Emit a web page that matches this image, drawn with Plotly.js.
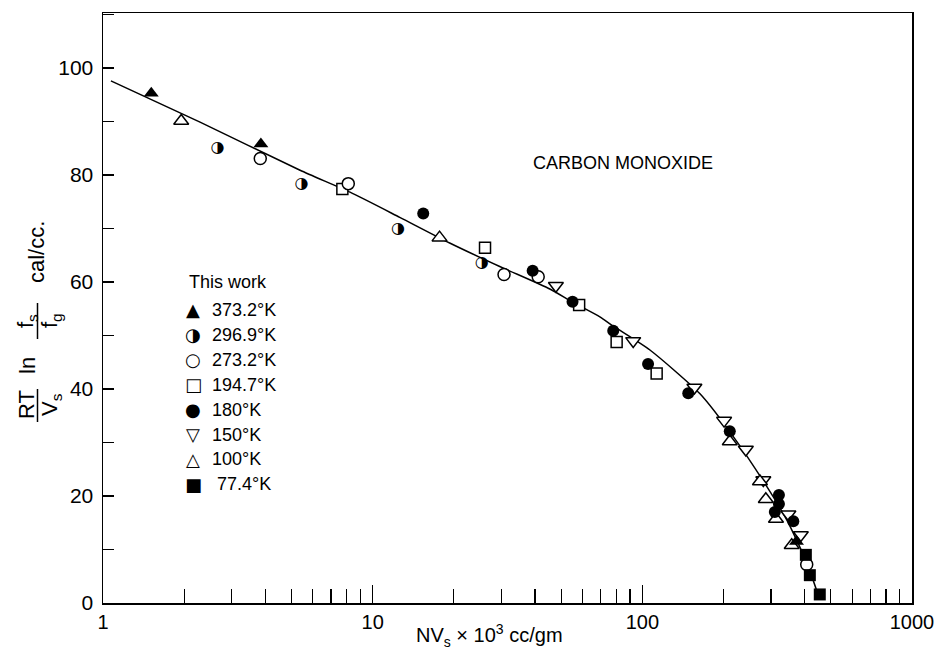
<!DOCTYPE html>
<html>
<head>
<meta charset="utf-8">
<script src="https://cdn.plot.ly/plotly-3.0.1.min.js"></script>
<style>html,body{margin:0;padding:0;background:#fff;}#chart{width:940px;height:653px;}</style>
</head>
<body>
<div id="chart"></div>
<script>
// ---- data ----
const curveX = [1.07, 2.29, 5.38, 8.24, 12.6, 19.3, 29.6, 45.4, 55.3, 69.6, 77.8, 106.7, 163.6, 216.8, 290, 343.6, 407.6, 455];
const curveY = [97.6, 89.9, 80.9, 76.8, 72.1, 67.3, 62.9, 58.7, 56.2, 53.5, 51.8, 47.3, 39.1, 31.2, 21.7, 15.5, 7.5, 0.6];

const t373X = [1.51, 3.85, 373];
const t373Y = [95.3, 85.8, 11.5];
const t296X = [2.66, 5.45, 12.4, 25.4];
const t296Y = [85.0, 78.3, 70.0, 63.6];
const t273X = [3.83, 8.12, 30.7, 41.1, 407];
const t273Y = [83.1, 78.4, 61.4, 61.0, 7.2];
const t194X = [7.72, 26.1, 58.3, 80.3, 113];
const t194Y = [77.4, 66.4, 55.7, 48.8, 42.9];
const t180X = [15.4, 39.2, 55.1, 78.0, 105, 148, 211, 321, 321, 310, 363];
const t180Y = [72.8, 62.1, 56.3, 50.9, 44.7, 39.2, 32.1, 20.2, 18.5, 17.0, 15.3];
const t150X = [47.8, 92.5, 156, 201, 242, 281, 348, 387];
const t150Y = [59.3, 49.0, 40.3, 34.1, 28.7, 23.0, 16.6, 12.7];
const t100X = [1.95, 17.7, 211, 273, 287, 313, 358];
const t100Y = [90.1, 68.3, 30.2, 22.7, 19.4, 15.7, 10.8];
const t77X = [404, 418, 455];
const t77Y = [9.0, 5.2, 1.6];

const legendTitle = 'This work';
const legendLabels = ['373.2°K', '296.9°K', '273.2°K', '194.7°K', '180°K', '150°K', '100°K', ' 77.4°K'];
const legendGlyphs = ['▲', '◑', '○', '□', '●', '▽', '△', '■'];

const xMajor = [1, 10, 100, 1000];
const xMajorText = ['1', '10', '100', '1000'];
const xMinor = [2,3,4,5,6,7,8,9,20,30,40,50,60,70,80,90,200,300,400,500,600,700,800,900];
const yMajor = [0, 20, 40, 60, 80, 100];

const annotationText = 'CARBON MONOXIDE';
const xTitle = 'NV<sub>s</sub> × 10<sup>3</sup> cc/gm';
// ---------------------------------------

const FONT = 'Liberation Sans, Arial, Helvetica, sans-serif';
const SYMFONT = 'DejaVu Sans, sans-serif';
const openLine = {color: 'black', width: 1.5};

function mk(x, y, symbol, size, fill) {
  return {
    x: x, y: y, type: 'scatter', mode: 'markers', showlegend: false, hoverinfo: 'skip',
    marker: {symbol: symbol, size: size, color: fill ? 'black' : 'white', line: fill ? {width: 0} : openLine}
  };
}

const traces = [
  {x: curveX, y: curveY, type: 'scatter', mode: 'lines', showlegend: false, hoverinfo: 'skip',
   line: {color: 'black', width: 1.5, shape: 'spline', smoothing: 0.6}},
  mk(t194X, t194Y, 'square', 11, false),
  mk(t273X, t273Y, 'circle', 12, false),
  {x: t296X, y: t296Y, type: 'scatter', mode: 'text', text: t296X.map(() => '◑'), showlegend: false,
   hoverinfo: 'skip', textposition: 'middle center', textfont: {family: SYMFONT, size: 16, color: 'black'}},
  mk(t150X, t150Y, 'triangle-down', 13, false),
  mk(t100X, t100Y, 'triangle-up', 13, false),
  mk(t180X, t180Y, 'circle', 12, true),
  mk(t373X, t373Y, 'triangle-up', 13, true),
  mk(t77X, t77Y, 'square', 12, true)
];

// pixel helpers for layout placement (plot area: 103..912 x, 13..603 y)
const L = 103, R = 912, T = 13, B = 603;
const px = v => (v - L) / (R - L);
const py = v => (B - v) / (B - T);

const annotations = [];
annotations.push({text: annotationText, xref: 'paper', yref: 'paper', x: px(531), y: py(163), xanchor: 'left', yanchor: 'middle', showarrow: false, font: {family: FONT, size: 18, color: 'black'}});
annotations.push({text: xTitle, xref: 'paper', yref: 'paper', x: px(489), y: py(635), xanchor: 'center', yanchor: 'middle', showarrow: false, font: {family: FONT, size: 20, color: 'black'}});
annotations.push({text: legendTitle, xref: 'paper', yref: 'paper', x: px(187), y: py(282), xanchor: 'left', yanchor: 'middle', showarrow: false, font: {family: FONT, size: 18, color: 'black'}});
legendLabels.forEach((lab, i) => {
  const yy = 310 + i * 24.9;
  annotations.push({text: legendGlyphs[i], xref: 'paper', yref: 'paper', x: px(193), y: py(yy), xanchor: 'center', yanchor: 'middle', showarrow: false, font: {family: SYMFONT, size: 18, color: 'black'}});
  annotations.push({text: lab, xref: 'paper', yref: 'paper', x: px(210), y: py(yy), xanchor: 'left', yanchor: 'middle', showarrow: false, font: {family: FONT, size: 18, color: 'black'}});
});
// composite y-axis title
const yt = (t, x, y) => ({text: t, xref: 'paper', yref: 'paper', x: px(x), y: py(y), xanchor: 'center', yanchor: 'middle', textangle: -90, showarrow: false, font: {family: FONT, size: 22, color: 'black'}});
annotations.push(yt('RT', 26, 405));
annotations.push(yt('V<sub>s</sub>', 51, 405));
annotations.push(yt('ln', 27, 366));
annotations.push(yt('f<sub>s</sub>', 27, 321));
annotations.push(yt('f<sub>g</sub>', 51, 321));
annotations.push(yt('cal/cc.', 36, 252));

const shapes = [
  {type: 'line', xref: 'paper', yref: 'paper', x0: px(37.5), x1: px(37.5), y0: py(389), y1: py(422), line: {color: 'black', width: 1.5}},
  {type: 'line', xref: 'paper', yref: 'paper', x0: px(37.5), x1: px(37.5), y0: py(303), y1: py(339), line: {color: 'black', width: 1.5}}
];

const layout = {
  width: 940, height: 653,
  margin: {l: L, r: 940 - R, t: T, b: 653 - B, pad: 0},
  paper_bgcolor: 'white', plot_bgcolor: 'white',
  font: {family: FONT, color: 'black'},
  showlegend: false,
  xaxis: {
    type: 'log', range: [0, 3], showgrid: false, zeroline: false,
    showline: true, linecolor: 'black', linewidth: 1.5, mirror: true,
    ticks: 'inside', ticklen: 18, tickwidth: 1.3, tickcolor: 'black',
    tickmode: 'array', tickvals: xMajor, ticktext: xMajorText,
    tickfont: {family: FONT, size: 20, color: 'black'},
    minor: {tickmode: 'array', tickvals: xMinor, ticks: 'inside', ticklen: 14, tickwidth: 1.3, tickcolor: 'black', showgrid: false}
  },
  yaxis: {
    range: [0, 110.3], showgrid: false, zeroline: false,
    showline: true, linecolor: 'black', linewidth: 1.5, mirror: true,
    ticks: 'inside', ticklen: 11, tickwidth: 1.3, tickcolor: 'black',
    tickmode: 'array', tickvals: yMajor,
    tickfont: {family: FONT, size: 21, color: 'black'},
    ticklabelstandoff: 4,
    minor: {dtick: 10, ticks: 'inside', ticklen: 11, tickwidth: 1.3, tickcolor: 'black', showgrid: false}
  },
  annotations: annotations,
  shapes: shapes
};

Plotly.newPlot('chart', traces, layout, {displayModeBar: false, staticPlot: true});
</script>
</body>
</html>
